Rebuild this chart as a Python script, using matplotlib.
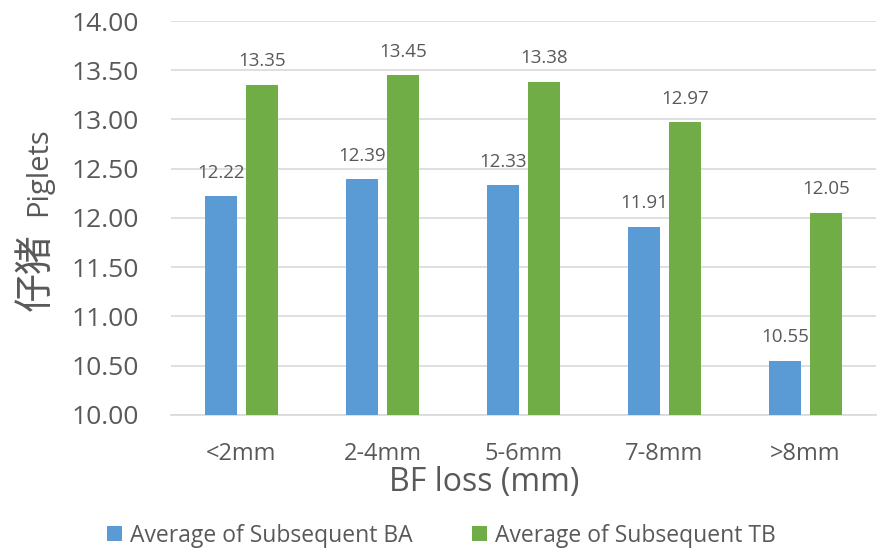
import matplotlib.pyplot as plt
import numpy as np

plt.rcParams['font.family'] = ['Open Sans', 'Noto Sans CJK SC', 'DejaVu Sans']

categories = ["<2mm", "2-4mm", "5-6mm", "7-8mm", ">8mm"]
avg_ba = [12.22, 12.39, 12.33, 11.91, 10.55]
avg_tb = [13.35, 13.45, 13.38, 12.97, 12.05]
series_names = ["Average of Subsequent BA", "Average of Subsequent TB"]

blue = "#5B9BD5"
green = "#70AD47"
text_col = "#595959"

fig = plt.figure(figsize=(8.78, 5.49), dpi=100)
ax = fig.add_axes([0.1948, 0.2446, 0.8029, 0.7171])

x = np.arange(len(categories))
width = 0.227
off = 0.145
b1 = ax.bar(x - off, avg_ba, width, color=blue, label=series_names[0], zorder=3)
b2 = ax.bar(x + off, avg_tb, width, color=green, label=series_names[1], zorder=3)

for bars in (b1, b2):
    for rect in bars:
        h = rect.get_height()
        ax.annotate(f"{h:.2f}", (rect.get_x() + rect.get_width() / 2, h),
                    xytext=(0, 10.5), textcoords="offset points",
                    ha="center", va="bottom", fontsize=13.5, color=text_col)

ax.set_xlim(-0.5, len(categories) - 0.5)
ax.set_ylim(10, 14)
ax.set_yticks(np.arange(10, 14.01, 0.5))
ax.set_yticklabels([f"{v:.2f}" for v in np.arange(10, 14.01, 0.5)])
ax.set_xticks(x)
ax.set_xticklabels(categories)
ax.tick_params(axis="y", length=0, pad=23, labelsize=19, labelcolor=text_col)
ax.tick_params(axis="x", length=0, pad=20, labelsize=17, labelcolor=text_col)
ax.grid(axis="y", color="#D9D9D9", linewidth=1.2, zorder=0)
for s in ["top", "right", "left"]:
    ax.spines[s].set_visible(False)
ax.spines["bottom"].set_color("#D9D9D9")
ax.spines["bottom"].set_linewidth(1.2)

# axis title sits left of the plot centre
fig.text(484 / 878, 1 - 482 / 549, "BF loss (mm)", fontsize=23, color=text_col,
         ha="center", va="center")

fig.text(36 / 878, 1 - 272 / 549, "仔猪", rotation=90, fontsize=28, color=text_col,
         ha="center", va="center", family=['Noto Sans CJK SC', 'DejaVu Sans'])
fig.text(39 / 878, 1 - 172 / 549, "Piglets", rotation=90, fontsize=21, color=text_col,
         ha="center", va="center")

fig.legend(handles=[b1, b2], labels=series_names, loc="center",
           bbox_to_anchor=(0.503, 0.024), ncol=2, frameon=False,
           fontsize=16.5, labelcolor=text_col, handlelength=0.65,
           handleheight=0.65, handletextpad=0.35, columnspacing=2.6)

fig.savefig("out.png", dpi=100)
